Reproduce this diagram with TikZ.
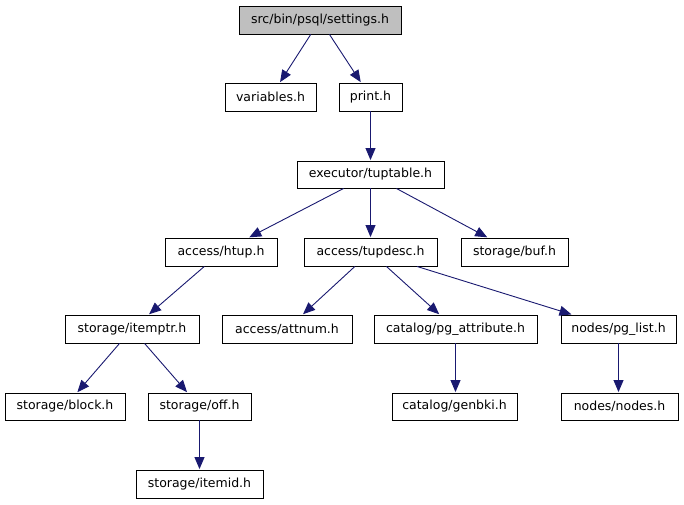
\documentclass[tikz,border=0pt]{standalone}
\usepackage{fontspec}
\setmainfont{DejaVu Sans}
\usetikzlibrary{arrows.meta}
\definecolor{edgec}{HTML}{191970}
\definecolor{rootfill}{HTML}{BFBFBF}
\tikzset{
  box/.style={draw=black, line width=0.9pt, fill=white, inner sep=0pt, font=\fontsize{12.5}{14}\selectfont, text=black},
  rootbox/.style={box, fill=rootfill},
  dep/.style={draw=edgec, line width=0.9pt, -{Triangle[length=12pt,width=10pt]}, shorten >=0.5pt}
}
\newcommand{\bx}[7][box]{% style, name, x1, y1, x2, y2, text
  \node[#1, minimum width={#5-#3}, minimum height={#6-#4}] (#2) at ({(#3+#5)/2},{(#4+#6)/2}) {#7};}
\begin{document}
\begin{tikzpicture}[x=1pt,y=-1pt]
\useasboundingbox (0,0) rectangle (684,504);
\bx[rootbox]{settings}{239}{6}{401}{34}{src/bin/psql/settings.h}
\bx{variables}{225}{83}{316}{111}{variables.h}
\bx{print}{339}{83}{402}{111}{print.h}
\bx{tuptable}{297}{161}{444}{188}{executor/tuptable.h}
\bx{htup}{165}{238}{277}{266}{access/htup.h}
\bx{tupdesc}{304}{238}{437}{266}{access/tupdesc.h}
\bx{buf}{461}{238}{568}{266}{storage/buf.h}
\bx{itemptr}{65}{315}{199}{343}{storage/itemptr.h}
\bx{attnum}{222}{315}{352}{343}{access/attnum.h}
\bx{pgattr}{374}{315}{537}{343}{catalog/pg\_attribute.h}
\bx{pglist}{561}{315}{676}{343}{nodes/pg\_list.h}
\bx{block}{5}{393}{125}{420}{storage/block.h}
\bx{off}{148}{393}{251}{420}{storage/off.h}
\bx{genbki}{392}{393}{517}{420}{catalog/genbki.h}
\bx{nodes}{561}{393}{678}{420}{nodes/nodes.h}
\bx{itemid}{136}{470}{263}{498}{storage/itemid.h}
\draw[dep] (settings) -- (variables);
\draw[dep] (settings) -- (print);
\draw[dep] (print) -- (tuptable);
\draw[dep] (tuptable) -- (htup);
\draw[dep] (tuptable) -- (tupdesc);
\draw[dep] (tuptable) -- (buf);
\draw[dep] (htup) -- (itemptr);
\draw[dep] (tupdesc) -- (attnum);
\draw[dep] (tupdesc) -- (pgattr);
\draw[dep] (tupdesc) -- (pglist);
\draw[dep] (itemptr) -- (block);
\draw[dep] (itemptr) -- (off);
\draw[dep] (off) -- (off |- itemid.north);
\draw[dep] (pgattr) -- (pgattr |- genbki.north);
\draw[dep] (pglist) -- (pglist |- nodes.north);
\end{tikzpicture}
\end{document}
